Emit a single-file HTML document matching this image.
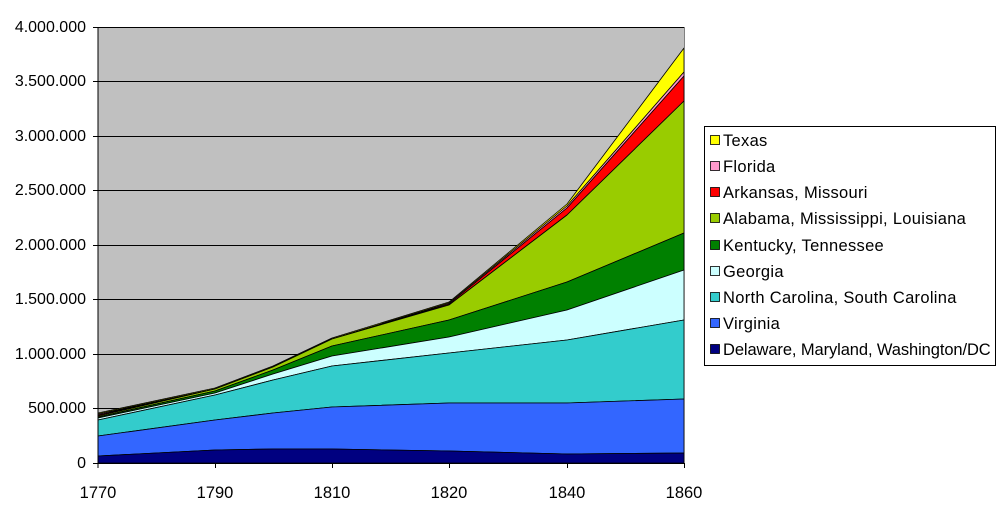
<!DOCTYPE html>
<html><head><meta charset="utf-8"><style>
html,body{margin:0;padding:0;background:#fff;}
svg{display:block;font-family:"Liberation Sans",Arial,sans-serif;}
</style></head><body>
<svg width="1000" height="514" viewBox="0 0 1000 514" xmlns="http://www.w3.org/2000/svg">
<rect x="98" y="27" width="586" height="436" fill="#c0c0c0"/>
<g stroke="#000" stroke-width="1">
<line x1="98" x2="684" y1="27.5" y2="27.5"/>
<line x1="98" x2="684" y1="81.5" y2="81.5"/>
<line x1="98" x2="684" y1="136.5" y2="136.5"/>
<line x1="98" x2="684" y1="190.5" y2="190.5"/>
<line x1="98" x2="684" y1="245.5" y2="245.5"/>
<line x1="98" x2="684" y1="299.5" y2="299.5"/>
<line x1="98" x2="684" y1="354.5" y2="354.5"/>
<line x1="98" x2="684" y1="408.5" y2="408.5"/>
</g>
<g stroke="#000" stroke-width="0.8" stroke-linejoin="round">
<polygon fill="#ffff00" points="98,413 215,388 273,366 332,338 449,302 567,204 684,48 684,72 567,206 449,303 332,339 273,367 215,389 98,414"/>
<polygon fill="#ff99cc" points="98,414 215,389 273,367 332,339 449,303 567,206 684,72 684,76 567,208 449,304 332,339 273,367 215,389 98,415"/>
<polygon fill="#ff0000" points="98,415 215,389 273,367 332,339 449,304 567,208 684,76 684,101 567,215 449,305 332,339 273,367 215,389 98,416"/>
<polygon fill="#99cc00" points="98,416 215,389 273,367 332,339 449,305 567,215 684,101 684,233 567,282 449,320 332,346 273,370 215,391 98,417"/>
<polygon fill="#008000" points="98,417 215,391 273,370 332,346 449,320 567,282 684,233 684,270 567,310 449,337 332,356 273,374 215,393 98,418"/>
<polygon fill="#ccffff" points="98,418 215,393 273,374 332,356 449,337 567,310 684,270 684,320 567,340 449,353 332,366 273,380 215,395 98,420"/>
<polygon fill="#33cccc" points="98,420 215,395 273,380 332,366 449,353 567,340 684,320 684,399 567,403 449,403 332,407 273,413 215,420 98,436"/>
<polygon fill="#3366ff" points="98,436 215,420 273,413 332,407 449,403 567,403 684,399 684,453 567,454 449,451 332,449 273,449 215,450 98,456"/>
<polygon fill="#000080" points="98,456 215,450 273,449 332,449 449,451 567,454 684,453 684,463 98,463"/>
</g>
<line x1="684.5" y1="27" x2="684.5" y2="463" stroke="#808080"/>
<g stroke="#000" stroke-width="1">
<line x1="98" x2="98" y1="27" y2="468"/>
<line x1="93" x2="684" y1="463.5" y2="463.5"/>
<line x1="93" x2="98" y1="27.5" y2="27.5"/><line x1="93" x2="98" y1="81.5" y2="81.5"/>
<line x1="93" x2="98" y1="136.5" y2="136.5"/><line x1="93" x2="98" y1="190.5" y2="190.5"/>
<line x1="93" x2="98" y1="245.5" y2="245.5"/><line x1="93" x2="98" y1="299.5" y2="299.5"/>
<line x1="93" x2="98" y1="354.5" y2="354.5"/><line x1="93" x2="98" y1="408.5" y2="408.5"/>
<line x1="215.5" x2="215.5" y1="463" y2="468"/><line x1="332.5" x2="332.5" y1="463" y2="468"/>
<line x1="449.5" x2="449.5" y1="463" y2="468"/><line x1="567.5" x2="567.5" y1="463" y2="468"/>
<line x1="684.5" x2="684.5" y1="463" y2="468"/>
</g>
<g font-size="16" text-anchor="end" fill="#000">
<text x="86" y="32">4.000.000</text><text x="86" y="86">3.500.000</text>
<text x="86" y="141">3.000.000</text><text x="86" y="195">2.500.000</text>
<text x="86" y="250">2.000.000</text><text x="86" y="304">1.500.000</text>
<text x="86" y="359">1.000.000</text><text x="86" y="413">500.000</text>
<text x="86" y="468">0</text>
</g>
<g font-size="16.5" text-anchor="middle" fill="#000">
<text x="98" y="498">1770</text><text x="215" y="498">1790</text><text x="332" y="498">1810</text>
<text x="449" y="498">1820</text><text x="567" y="498">1840</text><text x="684" y="498">1860</text>
</g>
<rect x="704.5" y="126.5" width="291" height="239" fill="#fff" stroke="#000"/>
<g font-size="16.5" fill="#000" stroke-width="0.8" letter-spacing="0.3">
<rect x="710.5" y="135.5" width="9" height="9" fill="#ffff00" stroke="#000"/><text x="723" y="146">Texas</text>
<rect x="710.5" y="161.5" width="9" height="9" fill="#ff99cc" stroke="#000"/><text x="723" y="172">Florida</text>
<rect x="710.5" y="187.5" width="9" height="9" fill="#ff0000" stroke="#000"/><text x="723" y="198">Arkansas, Missouri</text>
<rect x="710.5" y="213.5" width="9" height="9" fill="#99cc00" stroke="#000"/><text x="723" y="224">Alabama, Mississippi, Louisiana</text>
<rect x="710.5" y="240.5" width="9" height="9" fill="#008000" stroke="#000"/><text x="723" y="251">Kentucky, Tennessee</text>
<rect x="710.5" y="266.5" width="9" height="9" fill="#ccffff" stroke="#000"/><text x="723" y="277">Georgia</text>
<rect x="710.5" y="292.5" width="9" height="9" fill="#33cccc" stroke="#000"/><text x="723" y="303">North Carolina, South Carolina</text>
<rect x="710.5" y="318.5" width="9" height="9" fill="#3366ff" stroke="#000"/><text x="723" y="329">Virginia</text>
<rect x="710.5" y="344.5" width="9" height="9" fill="#000080" stroke="#000"/><text x="723" y="355" textLength="268" lengthAdjust="spacing">Delaware, Maryland, Washington/DC</text>
</g>
</svg>
</body></html>
